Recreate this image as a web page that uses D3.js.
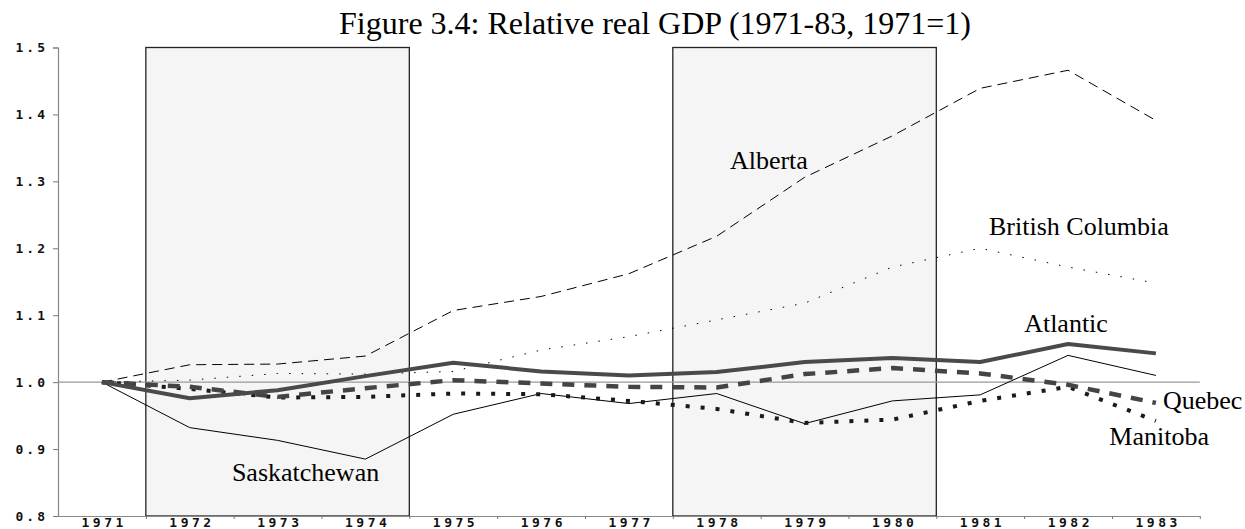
<!DOCTYPE html>
<html>
<head>
<meta charset="utf-8">
<script src="https://cdn.jsdelivr.net/npm/d3@7"></script>
<style>
  body { margin: 0; background: #fff; }
  .tick text { font-family: "DejaVu Sans Mono", monospace; font-weight: bold; fill: #111; }
  .lbl { font-family: "Liberation Serif", "Times New Roman", serif; fill: #000; }
</style>
</head>
<body>
<div id="chart"></div>
<script>
// data
var years = [1971, 1972, 1973, 1974, 1975, 1976, 1977, 1978, 1979, 1980, 1981, 1982, 1983];
var alberta      = [1, 1.026, 1.027, 1.039, 1.107, 1.128, 1.162, 1.218, 1.306, 1.368, 1.439, 1.466, 1.391];
var britishCol   = [1, 1.003, 1.013, 1.012, 1.016, 1.048, 1.068, 1.093, 1.118, 1.172, 1.200, 1.172, 1.148];
var atlantic     = [1, 0.976, 0.988, 1.009, 1.029, 1.016, 1.010, 1.015, 1.030, 1.036, 1.030, 1.057, 1.043];
var quebec       = [1, 0.993, 0.978, 0.991, 1.003, 0.998, 0.993, 0.992, 1.012, 1.021, 1.013, 0.996, 0.969];
var manitoba     = [1, 0.990, 0.977, 0.978, 0.983, 0.982, 0.972, 0.960, 0.939, 0.944, 0.972, 0.993, 0.942];
var saskatchewan = [1, 0.932, 0.913, 0.885, 0.952, 0.983, 0.968, 0.983, 0.938, 0.972, 0.981, 1.040, 1.010];

var yTicks = [0.8, 0.9, 1.0, 1.1, 1.2, 1.3, 1.4, 1.5];
// shaded periods
var bands = [[1971.5, 1974.5], [1977.5, 1980.5]];

var titleText = "Figure 3.4: Relative real GDP (1971-83, 1971=1)";

var W = 1245, H = 529;

var svg = d3.select("#chart").append("svg")
  .attr("width", W)
  .attr("height", H);

var x = d3.scaleLinear().domain([1970.5, 1983.5]).range([58, 1199.8]);
var y = d3.scaleLinear().domain([0.8, 1.5]).range([516, 47.5]);

// 阴影区
svg.selectAll(".band")
  .data(bands)
  .enter()
  .append("rect")
  .attr("class", "band")
  .attr("x", function (d) { return x(d[0]); })
  .attr("y", y(1.5))
  .attr("width", function (d) { return x(d[1]) - x(d[0]); })
  .attr("height", y(0.8) - y(1.5))
  .attr("fill", "#f5f5f5")
  .attr("stroke", "#222")
  .attr("stroke-width", 1.3);

// 1.0 reference line
svg.append("line")
  .attr("x1", x(1970.5)).attr("x2", x(1983.5))
  .attr("y1", y(1)).attr("y2", y(1))
  .attr("stroke", "#999")
  .attr("stroke-width", 1.2);

// y axis
var yAxis = svg.append("g")
  .attr("transform", "translate(" + x(1970.5) + ",0)")
  .call(d3.axisLeft(y).tickValues(yTicks).tickSize(5).tickPadding(5)
    .tickFormat(d3.format(".1f")));
yAxis.selectAll("text").style("font-size", "13px").style("letter-spacing", "3px");

// x axis: labels on years, ticks at half years
var xAxis = svg.append("g")
  .attr("transform", "translate(0," + y(0.8) + ")")
  .call(d3.axisBottom(x).tickValues(years).tickSize(0).tickPadding(1.5)
    .tickFormat(d3.format("d")));
xAxis.selectAll("text").style("font-size", "13px").style("letter-spacing", "3.5px")
  .attr("dx", "1.75px");
var xMinor = svg.append("g")
  .attr("transform", "translate(0," + y(0.8) + ")")
  .call(d3.axisBottom(x).tickValues(d3.range(1971.5, 1983.6, 1)).tickSize(3)
    .tickFormat(""));
xMinor.select(".domain").remove();

svg.selectAll(".domain").attr("stroke", "#888").attr("stroke-width", 1.2);
svg.selectAll(".tick line").attr("stroke", "#777");

// 折线
var series = [
  { name: "Alberta", values: alberta, color: "#000", width: 1, dash: "10,6" },
  { name: "British Columbia", values: britishCol, color: "#000", width: 1, dash: "1.5,11" },
  { name: "Saskatchewan", values: saskatchewan, color: "#000", width: 1, dash: null },
  { name: "Manitoba", values: manitoba, color: "#1a1a1a", width: 4, dash: "4,11" },
  { name: "Quebec", values: quebec, color: "#444", width: 4.5, dash: "12,10" },
  { name: "Atlantic", values: atlantic, color: "#4a4a4a", width: 4, dash: null }
];

var line = d3.line()
  .x(function (d, i) { return x(years[i]); })
  .y(function (d) { return y(d); });

svg.selectAll(".series")
  .data(series)
  .enter()
  .append("path")
  .attr("class", "series")
  .attr("d", function (d) { return line(d.values); })
  .attr("fill", "none")
  .attr("stroke", function (d) { return d.color; })
  .attr("stroke-width", function (d) { return d.width; })
  .attr("stroke-dasharray", function (d) { return d.dash; })
  .attr("stroke-linejoin", "round");

// 标签
var labels = [
  { text: "Alberta", year: 1978.15, val: 1.319 },
  { text: "British Columbia", year: 1981.1, val: 1.22 },
  { text: "Atlantic", year: 1981.5, val: 1.075 },
  { text: "Quebec", year: 1983.08, val: 0.96 },
  { text: "Manitoba", year: 1982.47, val: 0.906 },
  { text: "Saskatchewan", year: 1972.48, val: 0.853 }
];
svg.selectAll(".lbl")
  .data(labels)
  .enter()
  .append("text")
  .attr("class", "lbl")
  .attr("x", function (d) { return x(d.year); })
  .attr("y", function (d) { return y(d.val); })
  .style("font-size", "26px")
  .text(function (d) { return d.text; });

// 标题
svg.append("text")
  .attr("class", "lbl")
  .attr("x", 655)
  .attr("y", 34)
  .attr("text-anchor", "middle")
  .style("font-size", "32px")
  .text(titleText);
</script>
</body>
</html>
